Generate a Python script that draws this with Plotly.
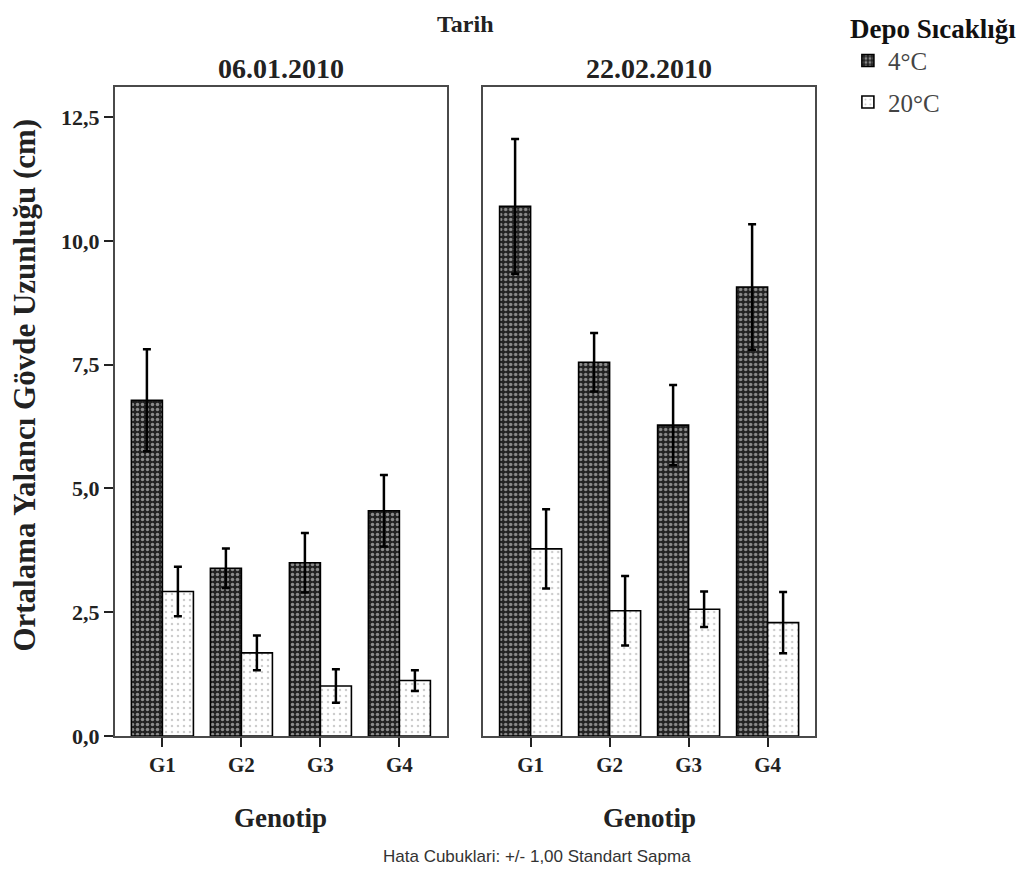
import plotly.graph_objects as go
from plotly.subplots import make_subplots

genotypes = ["G1", "G2", "G3", "G4"]
dates = ["06.01.2010", "22.02.2010"]
temps = ["4°C", "20°C"]

# date 1 (06.01.2010)
d1_4c = [6.78, 3.39, 3.50, 4.55]
d1_4c_sd = [1.03, 0.40, 0.60, 0.72]
d1_20c = [2.92, 1.68, 1.01, 1.12]
d1_20c_sd = [0.50, 0.35, 0.34, 0.21]
# date 2 (22.02.2010)
d2_4c = [10.70, 7.55, 6.28, 9.07]
d2_4c_sd = [1.36, 0.59, 0.81, 1.27]
d2_20c = [3.78, 2.53, 2.56, 2.29]
d2_20c_sd = [0.80, 0.70, 0.36, 0.62]

yticks = [0, 2.5, 5, 7.5, 10, 12.5]
yticktext = ["0,0", "2,5", "5,0", "7,5", "10,0", "12,5"]

SERIF = "Liberation Serif"
AX = "#4a4a4a"

fig = make_subplots(rows=1, cols=2, horizontal_spacing=0.052, shared_yaxes=False)

pat_4 = dict(shape=".", bgcolor="#222222", fgcolor="#f4f4f4", size=5, solidity=0.38)
pat_20 = dict(shape=".", bgcolor="#ffffff", fgcolor="#999999", size=6, solidity=0.13)

series = [
    (1, d1_4c, d1_4c_sd, d1_20c, d1_20c_sd, True),
    (2, d2_4c, d2_4c_sd, d2_20c, d2_20c_sd, False),
]
for col, v4, s4, v20, s20, show in series:
    fig.add_trace(go.Bar(
        x=genotypes, y=v4, name=temps[0], legendgroup="a", showlegend=show,
        marker=dict(color="#222222", pattern=pat_4, line=dict(color="black", width=1.6)),
        error_y=dict(type="data", array=s4, color="black", thickness=2.5, width=4),
    ), row=1, col=col)
    fig.add_trace(go.Bar(
        x=genotypes, y=v20, name=temps[1], legendgroup="b", showlegend=show,
        marker=dict(color="white", pattern=pat_20, line=dict(color="black", width=1.6)),
        error_y=dict(type="data", array=s20, color="black", thickness=2.5, width=4),
    ), row=1, col=col)

for col in (1, 2):
    fig.update_xaxes(
        row=1, col=col, type="category", range=[-0.6, 3.6],
        showline=True, mirror=True, linecolor=AX, linewidth=2,
        ticks="outside", ticklen=9, tickwidth=2, tickcolor="#222",
        tickfont=dict(family=SERIF, size=21, weight="bold", color="#222"),
        showgrid=False, zeroline=False,
    )
    fig.update_yaxes(
        row=1, col=col, range=[0, 13.11],
        showline=True, mirror=True, linecolor=AX, linewidth=2,
        showgrid=False, zeroline=False,
    )
fig.update_yaxes(row=1, col=1, tickvals=yticks, ticktext=yticktext,
                 ticks="outside", ticklen=9, tickwidth=2, tickcolor="#222",
                 tickfont=dict(family=SERIF, size=22, weight="bold", color="#222"))
fig.update_yaxes(row=1, col=2, showticklabels=False, ticks="")

fig.update_layout(
    width=1024, height=864,
    margin=dict(l=107, r=217, t=79, b=136, autoexpand=False),
    paper_bgcolor="white", plot_bgcolor="white",
    barmode="group", bargap=0.215, bargroupgap=0,
    font=dict(family=SERIF, color="#222"),
    legend=dict(
        x=1.047, y=1.13, xanchor="left", yanchor="top",
        title=dict(text="Depo Sıcaklığı", font=dict(family=SERIF, size=27, weight="bold", color="#111")),
        font=dict(family=SERIF, size=25, color="#444"),
        tracegroupgap=6, bgcolor="rgba(0,0,0,0)",
    ),
)

def ann(text, x, y, size, weight="bold", family=SERIF, color="#222", angle=0):
    fig.add_annotation(text=text, x=x, y=y, xref="paper", yref="paper",
                       showarrow=False, textangle=angle, xanchor="center", yanchor="middle",
                       font=dict(family=family, size=size, weight=weight, color=color))

ann("Tarih", 0.5, 1.097, 24)
ann(dates[0], 0.237, 1.029, 28)
ann(dates[1], 0.763, 1.029, 28)
ann("Genotip", 0.237, -0.126, 27)
ann("Genotip", 0.763, -0.126, 27)
ann("Hata Cubuklari: +/- 1,00 Standart Sapma", 0.603, -0.186, 17, weight="normal",
    family="Liberation Sans", color="#333")
ann("Ortalama Yalancı Gövde Uzunluğu (cm)", -0.129, 0.541, 31, angle=-90)

fig.write_html("out.html")
